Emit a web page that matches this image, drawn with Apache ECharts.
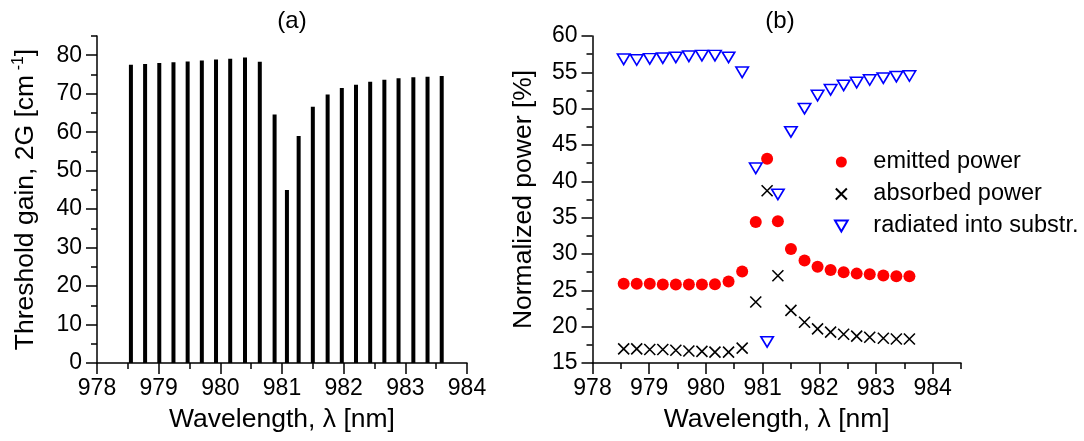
<!DOCTYPE html>
<html>
<head>
<meta charset="utf-8">
<script src="https://cdn.jsdelivr.net/npm/echarts@6/dist/echarts.min.js"></script>
<style>
  html, body { margin: 0; padding: 0; background: #fff; }
  #chart { width: 1084px; height: 441px; }
</style>
</head>
<body>
<div id="chart"></div>
<script>
// wavelengths of the resonator modes [nm]
const wavelength = [978.55, 978.78, 979.01, 979.24, 979.47, 979.70, 979.93, 980.16, 980.40, 980.64,
  980.88, 981.08, 981.27, 981.50, 981.74, 981.97, 982.20, 982.43, 982.66, 982.89, 983.13, 983.36, 983.59]

// (a) threshold gain [cm-1]
const thresholdGain = [77.5, 77.7, 78.0, 78.2, 78.4, 78.6, 78.9, 79.1, 79.4, 78.3,
  64.6, 45.0, 59.0, 66.6, 69.8, 71.5, 72.3, 73.1, 73.6, 74.0, 74.3, 74.4, 74.6]

// (b) normalized power [%]
const emitted = [25.9, 25.9, 25.9, 25.8, 25.8, 25.8, 25.8, 25.85, 26.2, 27.6,
  34.4, 43.1, 34.5, 30.7, 29.1, 28.25, 27.8, 27.5, 27.3, 27.2, 27.05, 26.95, 26.95]
const absorbed = [16.95, 16.95, 16.85, 16.85, 16.75, 16.65, 16.6, 16.5, 16.5, 17.05,
  23.4, 38.7, 27.0, 22.25, 20.6, 19.7, 19.25, 18.95, 18.7, 18.55, 18.4, 18.3, 18.3]
const radiated = [56.8, 56.7, 56.85, 56.95, 57.05, 57.2, 57.3, 57.3, 57.05, 55.0,
  41.8, 17.9, 38.2, 46.8, 50.0, 51.8, 52.6, 53.2, 53.6, 53.95, 54.2, 54.4, 54.5]

// tick values
const gainTicks = [0, 10, 20, 30, 40, 50, 60, 70, 80]
const gainMinorTicks = [5, 15, 25, 35, 45, 55, 65, 75, 85]
const wlTicks = [978, 979, 980, 981, 982, 983, 984]
const wlMinorTicks = [978.5, 979.5, 980.5, 981.5, 982.5, 983.5, 984.5]

const FONT = 'Liberation Sans, Arial, sans-serif'
const black = '#000'

const pairs = (ys) => wavelength.map((w, i) => [w, ys[i]])

const lineStyle = { color: black, width: 1.5 }
const labelStyle = { color: black, fontSize: 23, fontFamily: FONT }
const nameStyle = { color: black, fontSize: 26.5, fontFamily: FONT }

const crossPath = 'path://M0,0L10,10M10,0L0,10'
const downTriangle = 'path://M0,0L10,0L5,8.66Z'

const chart = echarts.init(document.getElementById('chart'))

const option = {
  backgroundColor: '#fff',
  animation: false,
  graphic: [
    { type: 'text', x: 292, y: 21, style: { text: '(a)', fill: black, font: '24px ' + FONT, textAlign: 'center', textVerticalAlign: 'middle' } },
    { type: 'text', x: 780, y: 21, style: { text: '(b)', fill: black, font: '24px ' + FONT, textAlign: 'center', textVerticalAlign: 'middle' } }
  ],
  grid: [
    { left: 97, top: 36, width: 370, height: 327 },
    { left: 592.5, top: 36, width: 368.5, height: 327 }
  ],
  legend: {
    orient: 'vertical',
    left: 829,
    top: 145,
    itemWidth: 54,
    itemHeight: 11,
    itemGap: 8,
    textStyle: { color: black, fontSize: 23.5, fontFamily: FONT },
    data: ['emitted power', 'absorbed power', 'radiated into substr.']
  },
  xAxis: [
    {
      gridIndex: 0, type: 'value', min: 978, max: 984, interval: 1,
      name: 'Wavelength, λ [nm]', nameLocation: 'middle', nameGap: 43, nameTextStyle: nameStyle,
      axisLine: { lineStyle }, axisTick: { length: 11, lineStyle },
      minorTick: { show: true, splitNumber: 2, length: 6, lineStyle },
      splitLine: { show: false }, minorSplitLine: { show: false },
      axisLabel: { ...labelStyle, margin: 14 }
    },
    {
      gridIndex: 1, type: 'value', min: 978, max: 984.5, interval: 1, position: 'bottom',
      name: 'Wavelength, λ [nm]', nameLocation: 'middle', nameGap: 43, nameTextStyle: nameStyle,
      axisLine: { lineStyle }, axisTick: { length: 11, lineStyle, customValues: wlTicks },
      splitLine: { show: false },
      axisLabel: { ...labelStyle, margin: 14, customValues: wlTicks }
    },
    {
      // half-nm minor ticks of (b)
      gridIndex: 1, type: 'value', min: 978, max: 984.5, position: 'bottom',
      axisLine: { show: false }, axisTick: { length: 6, lineStyle, customValues: wlMinorTicks },
      splitLine: { show: false }, axisLabel: { show: false }
    }
  ],
  yAxis: [
    {
      gridIndex: 0, type: 'value', min: 0, max: 85, interval: 10, position: 'left',
      name: '{t|Threshold gain, 2G [cm}{s| -1}{t|]}', nameLocation: 'middle', nameGap: 56,
      nameTextStyle: {
        rich: {
          t: { ...nameStyle, lineHeight: 30 },
          s: { color: black, fontSize: 16, fontFamily: FONT, verticalAlign: 'top', lineHeight: 30 }
        }
      },
      axisLine: { lineStyle }, axisTick: { length: 11, lineStyle, customValues: gainTicks },
      splitLine: { show: false },
      axisLabel: { ...labelStyle, margin: 15, customValues: gainTicks }
    },
    {
      // 5-unit minor ticks of (a)
      gridIndex: 0, type: 'value', min: 0, max: 85, position: 'left',
      axisLine: { show: false }, axisTick: { length: 6, lineStyle, customValues: gainMinorTicks },
      splitLine: { show: false }, axisLabel: { show: false }
    },
    {
      gridIndex: 1, type: 'value', min: 15, max: 60, interval: 5, position: 'left',
      name: 'Normalized power [%]', nameLocation: 'middle', nameGap: 55, nameTextStyle: nameStyle,
      axisLine: { lineStyle }, axisTick: { length: 11, lineStyle },
      minorTick: { show: true, splitNumber: 2, length: 6, lineStyle },
      splitLine: { show: false }, minorSplitLine: { show: false },
      axisLabel: { ...labelStyle, margin: 15 }
    }
  ],
  series: [
    {
      type: 'bar', xAxisIndex: 0, yAxisIndex: 0,
      barWidth: 4,
      itemStyle: { color: black },
      data: pairs(thresholdGain)
    },
    {
      name: 'emitted power', type: 'scatter', xAxisIndex: 1, yAxisIndex: 2,
      symbol: 'circle', symbolSize: 12,
      itemStyle: { color: '#ff0000', opacity: 1 },
      data: pairs(emitted)
    },
    {
      name: 'absorbed power', type: 'scatter', xAxisIndex: 1, yAxisIndex: 2,
      symbol: crossPath, symbolSize: 11,
      itemStyle: { color: 'transparent', borderColor: black, borderWidth: 1.6, opacity: 1 },
      data: pairs(absorbed)
    },
    {
      name: 'radiated into substr.', type: 'scatter', xAxisIndex: 1, yAxisIndex: 2,
      symbol: downTriangle, symbolSize: [12.5, 10.5],
      itemStyle: { color: '#fff', borderColor: '#0000ff', borderWidth: 1.6, opacity: 1 },
      data: pairs(radiated)
    }
  ]
}

chart.setOption(option)
</script>
</body>
</html>
